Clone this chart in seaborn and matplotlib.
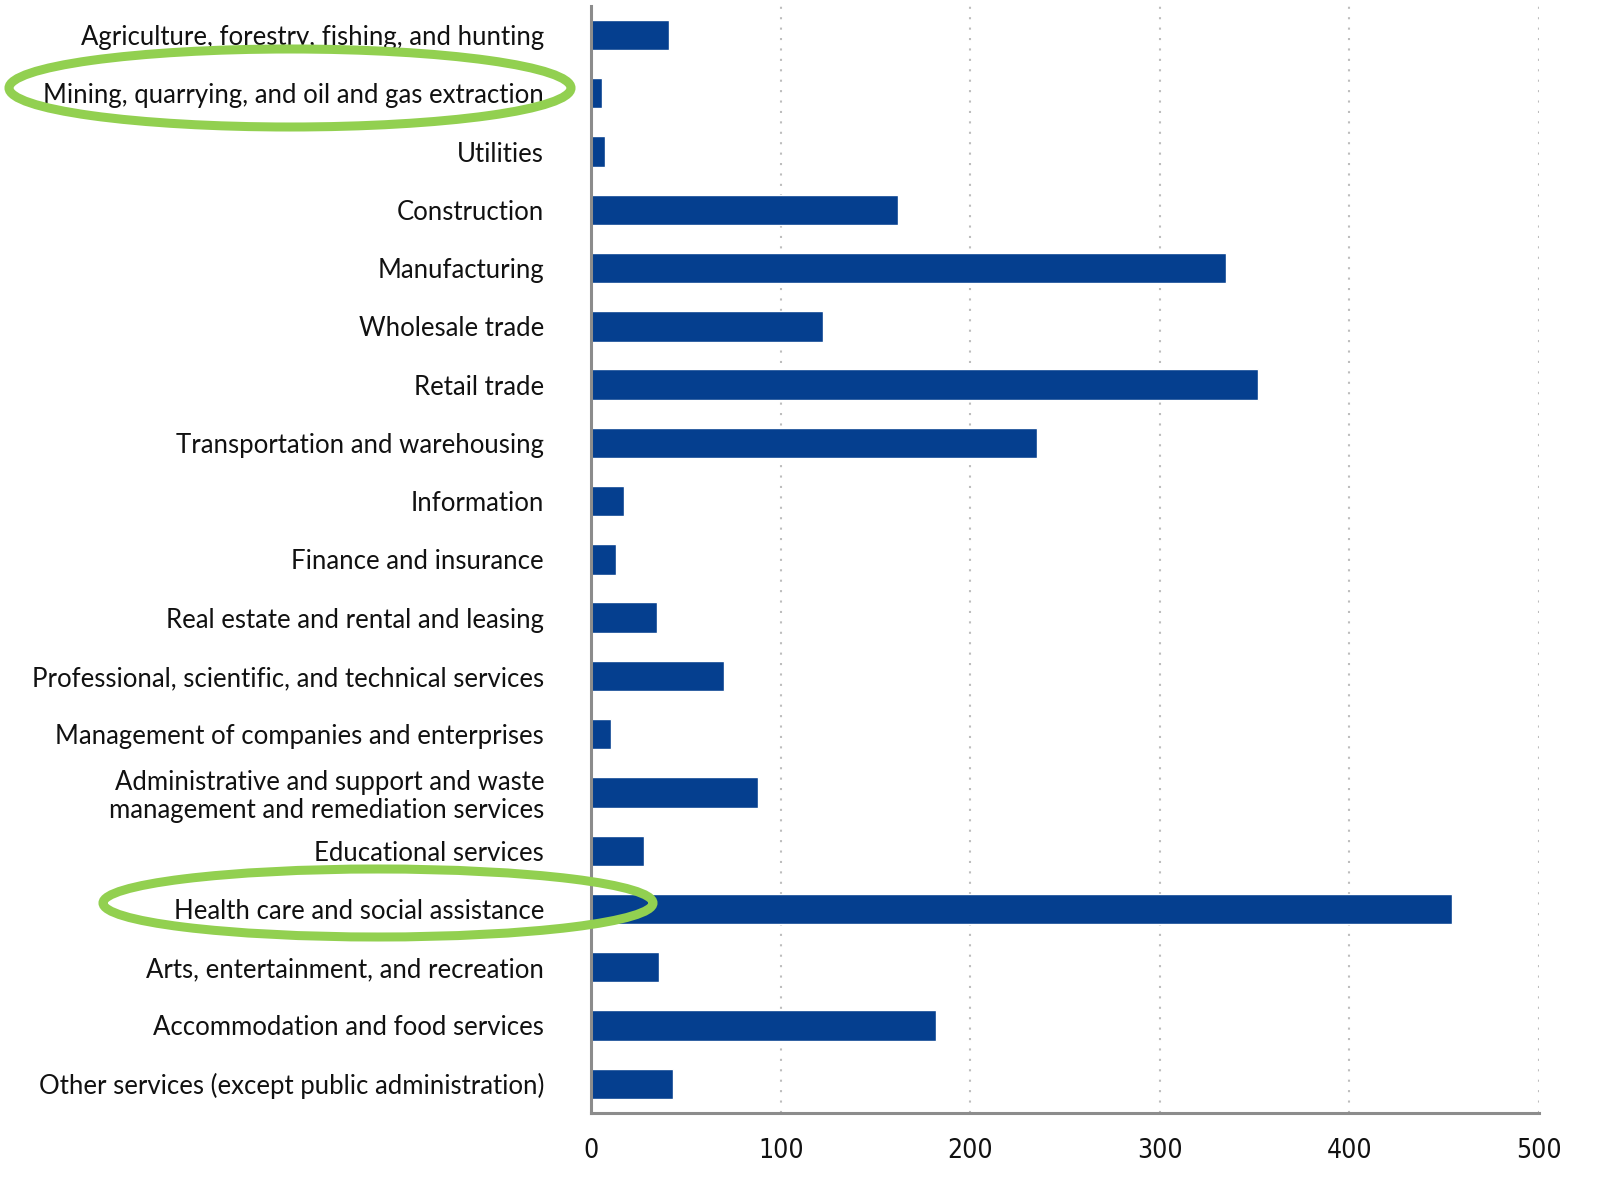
import numpy as np
import pandas as pd
import seaborn as sns
import matplotlib.pyplot as plt
from matplotlib.patches import Ellipse

# industries, top to bottom
industries = [
    "Agriculture, forestry, fishing, and hunting",
    "Mining, quarrying, and oil and gas extraction",
    "Utilities",
    "Construction",
    "Manufacturing",
    "Wholesale trade",
    "Retail trade",
    "Transportation and warehousing",
    "Information",
    "Finance and insurance",
    "Real estate and rental and leasing",
    "Professional, scientific, and technical services",
    "Management of companies and enterprises",
    "Administrative and support and waste\nmanagement and remediation services",
    "Educational services",
    "Health care and social assistance",
    "Arts, entertainment, and recreation",
    "Accommodation and food services",
    "Other services (except public administration)",
]
values = [41, 5.5, 7, 162, 335, 122, 352, 235, 17, 13, 34.5, 70, 10.5, 88, 28, 454, 35.5, 182, 43]
x_ticks = [0, 100, 200, 300, 400, 500]

df = pd.DataFrame({"industry": industries, "value": values})

sns.set_style("white")
plt.rcParams['font.family'] = ['Lato', 'DejaVu Sans']

fig = plt.figure(figsize=(16.2, 11.94), dpi=100)
ax = fig.add_axes([0.365, 0.068, 0.585, 0.927])

sns.barplot(data=df, x="value", y="industry", color="#053F8F", width=0.52,
            saturation=1, ax=ax)

ax.set_xlim(0, 500)
ax.set_ylim(len(industries) - 0.5, -0.5)
ax.set_xticks(x_ticks)
ax.set_xlabel("")
ax.set_ylabel("")

# dotted vertical grid
for x in x_ticks[1:]:
    ax.axvline(x, color="#BDBDBD", linestyle=(0, (1, 4)), linewidth=1.5, zorder=0)

for side in ["top", "right"]:
    ax.spines[side].set_visible(False)
for side in ["left", "bottom"]:
    ax.spines[side].set_color("#8C8C8C")
    ax.spines[side].set_linewidth(2.2)

ax.tick_params(axis="y", length=0, pad=34, labelsize=18.5, labelcolor="#111111")
ax.tick_params(axis="x", length=12, width=1.2, color="#B8CCE4", pad=6,
               labelsize=19, labelcolor="#111111")
for lab in ax.get_xticklabels():
    lab.set_family(['DejaVu Sans'])
    lab.set_fontstretch('condensed')
for lab in ax.get_yticklabels():
    lab.set_linespacing(1.15)

# green highlight rings around two labels (figure fractions)
W, H = 1620, 1194
rings = [(290, 88, 562, 78), (378, 903, 550, 68)]
for cx, cy, w, h in rings:
    fig.patches.append(Ellipse((cx / W, 1 - cy / H), w / W, h / H,
                               transform=fig.transFigure, fill=False,
                               edgecolor="#92D050", linewidth=6.5, zorder=5))

fig.savefig("out.png", dpi=100)
